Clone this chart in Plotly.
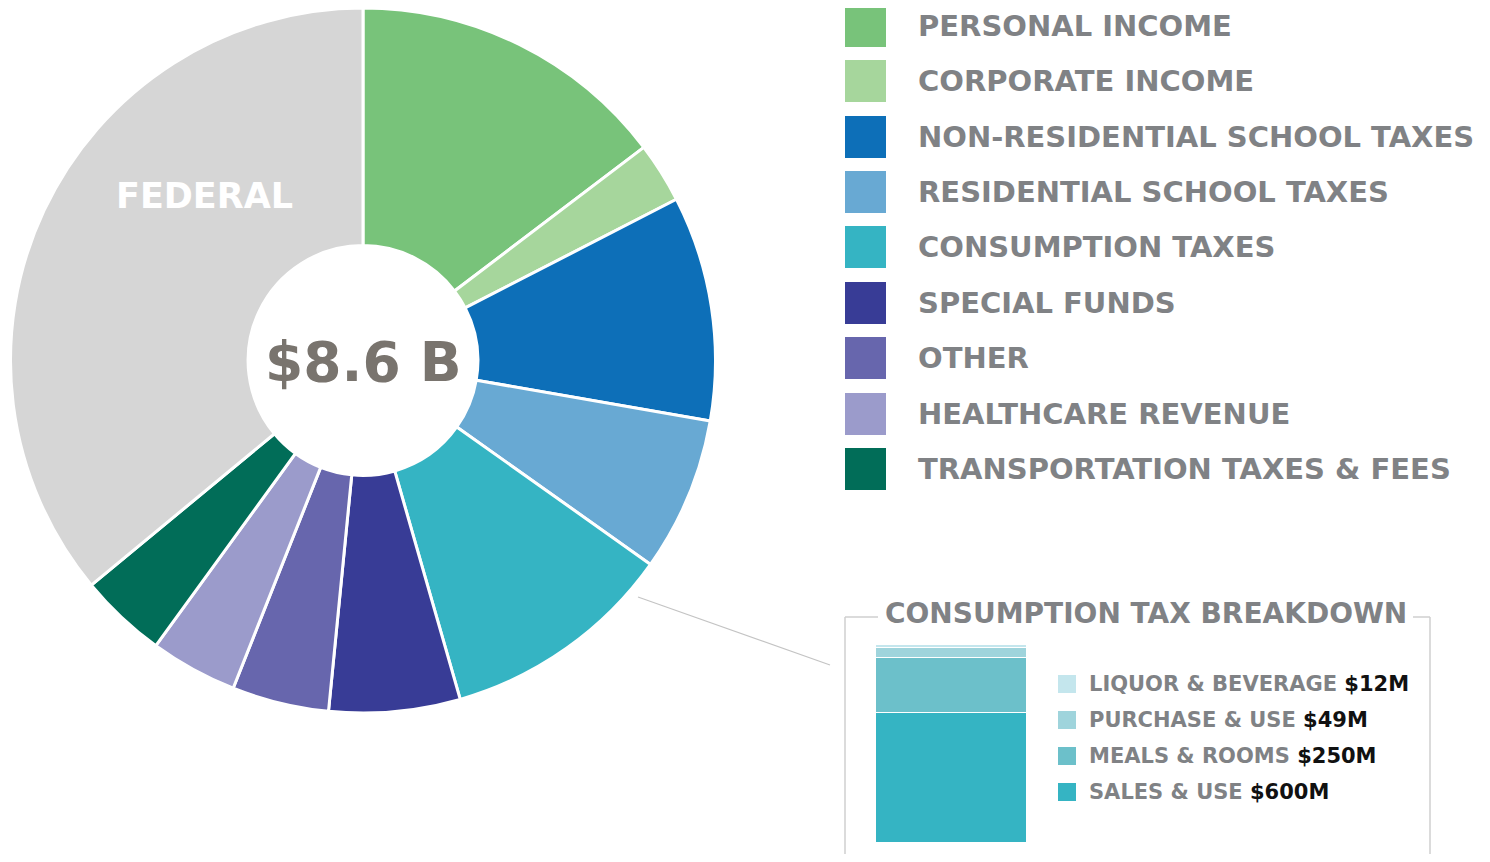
import plotly.graph_objects as go

# Ingresos por fuente ($M)
fuentes = ['PERSONAL INCOME', 'CORPORATE INCOME', 'NON-RESIDENTIAL SCHOOL TAXES',
           'RESIDENTIAL SCHOOL TAXES', 'CONSUMPTION TAXES', 'SPECIAL FUNDS', 'OTHER',
           'HEALTHCARE REVENUE', 'TRANSPORTATION TAXES & FEES', 'FEDERAL']
montos = [1245, 235, 875, 600, 911, 510, 377, 339, 340, 3055]
colores = ['#78c37a', '#a6d69c', '#0d6fb8', '#68a9d3', '#35b4c3', '#383c96',
           '#6766ad', '#9b9bcb', '#016d58', '#d6d6d6']

# Desglose del impuesto al consumo ($M)
consumo_cat = ['LIQUOR & BEVERAGE', 'PURCHASE & USE', 'MEALS & ROOMS', 'SALES & USE']
consumo_val = [12, 49, 250, 600]
consumo_txt = ['$12M', '$49M', '$250M', '$600M']
consumo_col = ['#c4e6ed', '#9fd4dc', '#6cc0ca', '#35b4c3']

total_txt = '$8.6 B'

# la pagina deja 8px de margen en el body
OFF = 8
W, H = 1490 - 2 * OFF, 862 - 2 * OFF
GRIS = '#808285'
FUENTE = 'DejaVu Sans'


def px_x(x):
    return (x - OFF) / W


def px_y(y):
    return 1 - (y - OFF) / H


fig = go.Figure()

fig.add_trace(go.Pie(
    labels=fuentes, values=montos, hole=0.326, sort=False, direction='clockwise',
    rotation=0, textinfo='none', hoverinfo='label+value',
    marker=dict(colors=colores, line=dict(color='white', width=3)),
    domain=dict(x=[px_x(10), px_x(716)], y=[px_y(713), px_y(8)]),
))

# barra apilada (de abajo hacia arriba)
for cat, val, col in zip(consumo_cat[::-1], consumo_val[::-1], consumo_col[::-1]):
    fig.add_trace(go.Bar(x=['CONSUMO'], y=[val], name=cat, width=1,
                         marker=dict(color=col, line=dict(color='white', width=1.5)),
                         xaxis='x', yaxis='y'))

anotaciones = []
formas = []

# leyenda principal
filas_y = [26, 81, 137, 192, 247, 303, 358, 414, 469]
for i, (nom, col) in enumerate(zip(fuentes[:-1], colores[:-1])):
    yc = filas_y[i]
    formas.append(dict(type='rect', xref='paper', yref='paper',
                       x0=px_x(845), x1=px_x(886), y0=px_y(yc + 21), y1=px_y(yc - 21),
                       fillcolor=col, line=dict(width=0)))
    anotaciones.append(dict(x=px_x(916), y=px_y(yc), xref='paper', yref='paper',
                            text='<b>' + nom + '</b>', showarrow=False,
                            xanchor='left', yanchor='middle',
                            font=dict(family=FUENTE, size=29, color=GRIS)))

# leyenda del desglose
filas_y2 = [684, 720, 756, 792]
for i, (cat, txt, col) in enumerate(zip(consumo_cat, consumo_txt, consumo_col)):
    yc = filas_y2[i]
    formas.append(dict(type='rect', xref='paper', yref='paper',
                       x0=px_x(1058), x1=px_x(1076), y0=px_y(yc + 9), y1=px_y(yc - 9),
                       fillcolor=col, line=dict(width=0)))
    anotaciones.append(dict(x=px_x(1087), y=px_y(yc), xref='paper', yref='paper',
                            text='<b>' + cat + ' <span style="color:#111111">' + txt + '</span></b>',
                            showarrow=False, xanchor='left', yanchor='middle',
                            font=dict(family=FUENTE, size=21, color=GRIS)))

# textos del anillo
anotaciones.append(dict(x=px_x(363), y=px_y(362), xref='paper', yref='paper',
                        text='<b>' + total_txt + '</b>', showarrow=False,
                        xanchor='center', yanchor='middle',
                        font=dict(family=FUENTE, size=55, color='#79746e')))
anotaciones.append(dict(x=px_x(204), y=px_y(196), xref='paper', yref='paper',
                        text='<b>FEDERAL</b>', showarrow=False,
                        xanchor='center', yanchor='middle',
                        font=dict(family=FUENTE, size=35, color='white')))

# titulo del recuadro
anotaciones.append(dict(x=px_x(1146), y=px_y(613), xref='paper', yref='paper',
                        text='<b>CONSUMPTION TAX BREAKDOWN</b>', showarrow=False,
                        xanchor='center', yanchor='middle',
                        font=dict(family=FUENTE, size=28, color=GRIS)))

# recuadro y linea de conexion
borde = dict(color='#cfcfcf', width=1.5)
for x0, y0, x1, y1 in [(845, 617, 845, 870), (845, 617, 878, 617),
                       (1413, 617, 1430, 617), (1430, 617, 1430, 870)]:
    formas.append(dict(type='line', xref='paper', yref='paper',
                       x0=px_x(x0), y0=px_y(y0), x1=px_x(x1), y1=px_y(y1), line=borde))
formas.append(dict(type='line', xref='paper', yref='paper',
                   x0=px_x(638), y0=px_y(597), x1=px_x(830), y1=px_y(665),
                   line=dict(color='#c4c4c4', width=1.2)))

fig.update_layout(
    width=W, height=H, margin=dict(l=0, r=0, t=0, b=0),
    paper_bgcolor='white', plot_bgcolor='white', showlegend=False,
    barmode='stack', bargap=0,
    xaxis=dict(domain=[px_x(876), px_x(1027)], range=[-0.5, 0.5], visible=False,
               fixedrange=True),
    yaxis=dict(domain=[px_y(843), px_y(645)], range=[0, sum(consumo_val)], visible=False,
               fixedrange=True),
    annotations=anotaciones, shapes=formas,
)

fig.write_html("out.html")
